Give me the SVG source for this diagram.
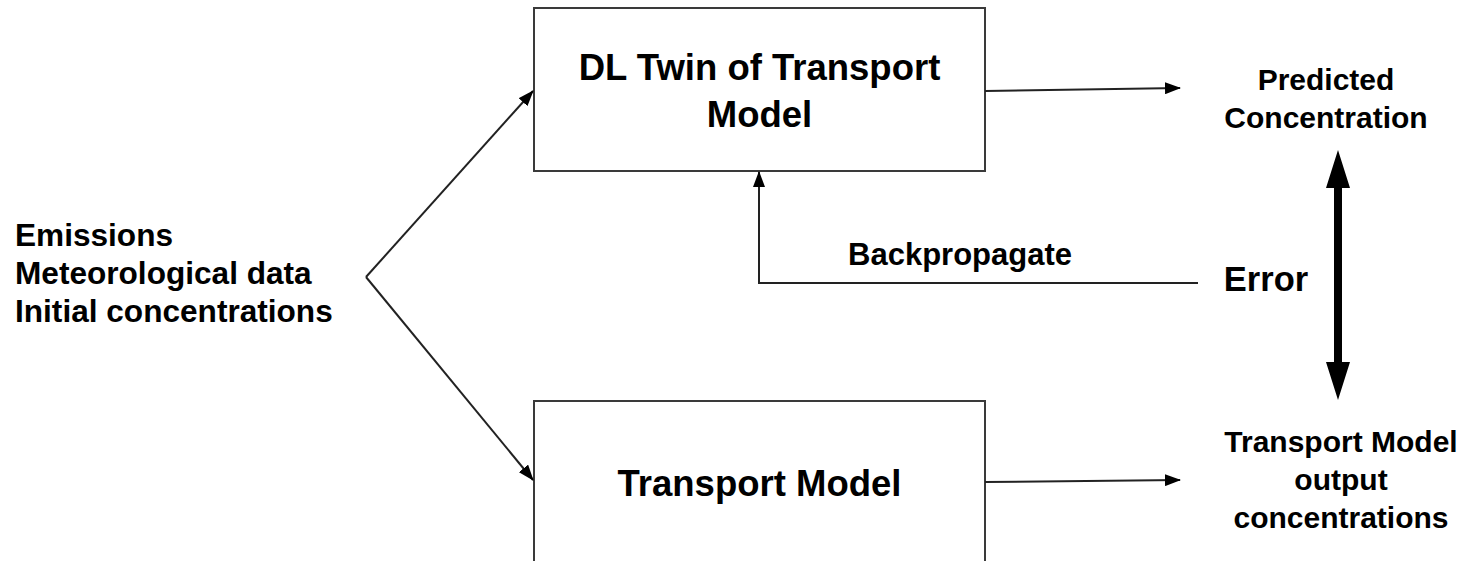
<svg xmlns="http://www.w3.org/2000/svg" width="1472" height="561" viewBox="0 0 1472 561">
  <style>
    .box { fill: #ffffff; stroke: #3a3a3a; stroke-width: 2; }
    .t { font-family: "Liberation Sans", Arial, sans-serif; font-weight: bold; fill: #000000; }
    .line { fill: none; stroke: #222222; stroke-width: 2; }
  </style>
  <defs>
    <marker id="ah" markerUnits="userSpaceOnUse" markerWidth="16" markerHeight="12" refX="15" refY="6" orient="auto">
      <path d="M0,0 L16,6 L0,12 z" fill="#000000"/>
    </marker>
  </defs>
  <rect width="1472" height="561" fill="#ffffff"/>

  <g id="node-inputs">
    <text class="t" x="15" y="246" font-size="31.6">Emissions</text>
    <text class="t" x="15" y="284" font-size="31.6">Meteorological data</text>
    <text class="t" x="15" y="322" font-size="31.6">Initial concentrations</text>
  </g>

  <g id="node-dl-twin">
    <rect class="box" x="534" y="8" width="451" height="163"/>
    <text class="t" x="759.5" y="80" font-size="36.5" text-anchor="middle">DL Twin of Transport</text>
    <text class="t" x="759.5" y="127" font-size="36.5" text-anchor="middle">Model</text>
  </g>

  <g id="node-transport">
    <rect class="box" x="534" y="401" width="451" height="180"/>
    <text class="t" x="759.5" y="496" font-size="36.5" text-anchor="middle">Transport Model</text>
  </g>

  <g id="node-predicted">
    <text class="t" x="1326" y="90" font-size="30" text-anchor="middle">Predicted</text>
    <text class="t" x="1326" y="128" font-size="30" text-anchor="middle">Concentration</text>
  </g>

  <g id="node-error">
    <text class="t" x="1266" y="291" font-size="34.5" text-anchor="middle">Error</text>
  </g>

  <g id="node-tm-output">
    <text class="t" x="1341" y="452" font-size="30" text-anchor="middle">Transport Model</text>
    <text class="t" x="1341" y="490" font-size="30" text-anchor="middle">output</text>
    <text class="t" x="1341" y="528" font-size="30" text-anchor="middle">concentrations</text>
  </g>

  <g id="connectors">
    <line class="line" x1="366" y1="277" x2="533" y2="91" marker-end="url(#ah)"/>
    <line class="line" x1="366" y1="277" x2="533" y2="480" marker-end="url(#ah)"/>
    <line class="line" x1="985" y1="91" x2="1180" y2="88" marker-end="url(#ah)"/>
    <line class="line" x1="985" y1="482" x2="1180" y2="480" marker-end="url(#ah)"/>
    <polyline class="line" points="1198,283 759,283 759,172" marker-end="url(#ah)"/>
    <text class="t" x="960" y="265" font-size="31" text-anchor="middle">Backpropagate</text>
    <polygon points="1338,150 1350,188 1342,188 1342,362 1350,362 1338,400 1326,362 1334,362 1334,188 1326,188" fill="#000000"/>
  </g>
</svg>
